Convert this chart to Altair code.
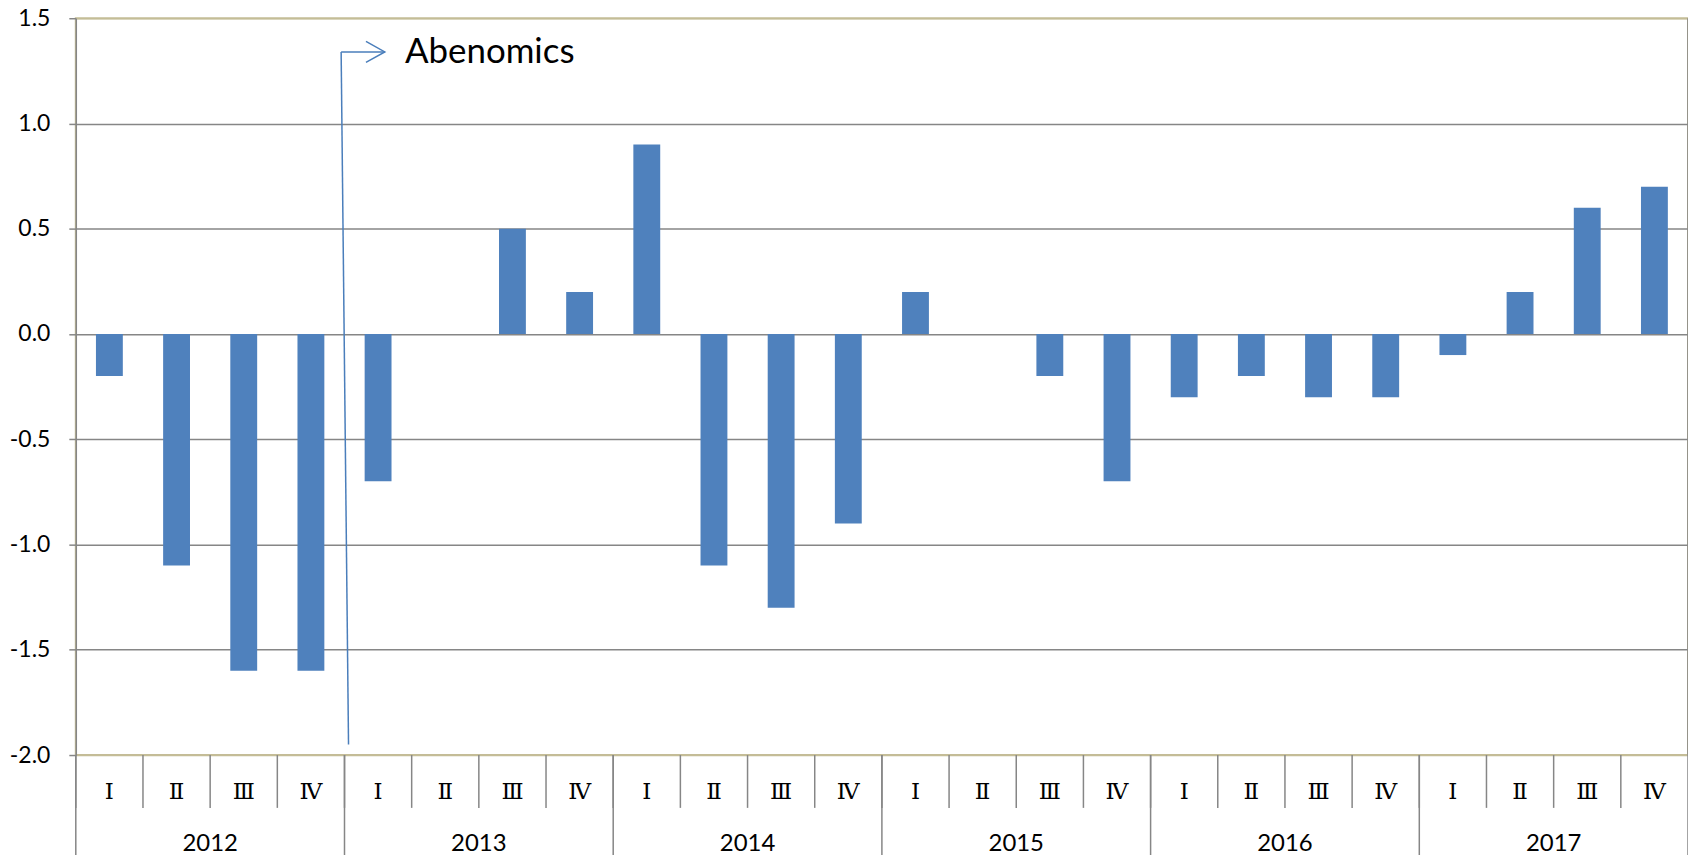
import altair as alt
import pandas as pd

years = ["2012", "2013", "2014", "2015", "2016", "2017"]
quarters = ["Ⅰ", "Ⅱ", "Ⅲ", "Ⅳ"]
values = [-0.2, -1.1, -1.6, -1.6,
          -0.7, 0.0, 0.5, 0.2,
          0.9, -1.1, -1.3, -0.9,
          0.2, 0.0, -0.2, -0.7,
          -0.3, -0.2, -0.3, -0.3,
          -0.1, 0.2, 0.6, 0.7]
y_ticks = [-2.0, -1.5, -1.0, -0.5, 0.0, 0.5, 1.0, 1.5]
anno_label = "Abenomics"
anno_top = 1.34
anno_bottom = -1.95

keys, yrs, qs = [], [], []
for y in years:
    for q in quarters:
        keys.append(f"{y}-{q}")
        yrs.append(y)
        qs.append(q)
df = pd.DataFrame({"key": keys, "year": yrs, "q": qs, "value": values})

W, H = 1617, 739
GRAY = "#868686"
TAN = "#C4BD97"
BLUE = "#4F81BD"
ABLUE = "#4A7EBB"

xscale = alt.Scale(domain=keys, paddingInner=0, paddingOuter=0)


def X(field="key", bp=0.5):
    return alt.X(f"{field}:N", scale=xscale, axis=None, sort=keys, bandPosition=bp)


yscale = alt.Scale(domain=[-2, 1.5], nice=False, zero=False)

base = alt.Chart(df)

bars = base.mark_bar(color=BLUE, width=alt.RelativeBandSize(0.4)).encode(
    x=X(),
    y=alt.Y(
        "value:Q",
        scale=yscale,
        axis=alt.Axis(
            values=y_ticks,
            labelExpr="replace(format(datum.value, '.1f'), '\u2212', '-')",
            labelFontSize=23,
            labelFont="Lato",
            labelColor="black",
            labelPadding=19,
            tickSize=7,
            tickColor=GRAY,
            tickWidth=1.5,
            domainColor=GRAY,
            domainWidth=1.5,
            gridColor={"condition": {"test": "datum.value == -2 || datum.value == 1.5",
                                     "value": TAN}, "value": GRAY},
            gridWidth=1.5,
            title=None,
        ),
    ),
)

q_sep = base.mark_rule(color=GRAY, strokeWidth=1.5).encode(
    x=X(bp=0), y=alt.value(H), y2=alt.value(H + 53)
)
y_sep = base.transform_filter(alt.datum.q == "Ⅰ").mark_rule(color=GRAY, strokeWidth=1.5).encode(
    x=X(bp=0), y=alt.value(H), y2=alt.value(H + 120)
)
end_sep = base.transform_filter(alt.datum.key == keys[-1]).mark_rule(color=GRAY, strokeWidth=1.5).encode(
    x=X(bp=1), y=alt.value(0), y2=alt.value(H + 120)
)

q_text = base.mark_text(fontSize=23, font="DejaVu Serif", color="black").encode(
    x=X(), y=alt.value(H + 37), text="q:N"
)
y_text = base.transform_filter(alt.datum.q == "Ⅱ").mark_text(
    fontSize=24, font="Lato", color="black"
).encode(x=X(bp=1), y=alt.value(H + 89), text="year:N")

anno = pd.DataFrame({
    "key": ["2013-Ⅰ"], "key0": ["2012-Ⅳ"],
    "ytop": [anno_top], "ybot": [anno_bottom], "label": [anno_label],
})
ab = alt.Chart(anno)
vline = ab.mark_rule(color=ABLUE, strokeWidth=1.5).encode(
    x=X(bp=0.06),
    x2=alt.X2("key0:N", bandPosition=0.95),
    y=alt.Y("ybot:Q", scale=yscale),
    y2="ytop:Q",
)
hline = ab.mark_rule(color=ABLUE, strokeWidth=1.5).encode(
    x=X("key0", bp=0.95),
    x2=alt.X2("key:N", bandPosition=0.6),
    y=alt.Y("ytop:Q", scale=yscale),
)
head = ab.mark_point(shape="M-1.8,-1L0,0L-1.8,1", filled=False, size=441,
                     strokeWidth=1.5, color=ABLUE, opacity=1).encode(
    x=X(bp=0.6), y=alt.Y("ytop:Q", scale=yscale)
)
atext = ab.mark_text(fontSize=35, font="Lato", align="left", baseline="middle", color="black").encode(
    x=X(bp=0.9), y=alt.Y("ytop:Q", scale=yscale), text="label:N"
)

chart = alt.layer(bars, q_sep, y_sep, end_sep, q_text, y_text, vline, hline, head, atext).properties(
    width=W, height=H,
    autosize=alt.AutoSizeParams(type="none"),
    padding={"left": 68, "top": 9, "right": 0, "bottom": 99},
).configure_view(stroke=TAN, strokeWidth=2)

chart.save("out.html", embed_options={"renderer": "svg", "actions": False})
